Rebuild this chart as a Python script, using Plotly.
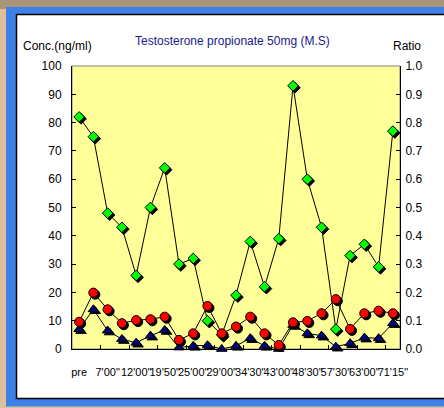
import plotly.graph_objects as go

# Sampling points (only every other one carries a printed label)
x_labels = ["pre", "7'00\"", "12'00\"", "19'50\"", "25'00\"", "29'00\"",
            "34'30\"", "43'00\"", "48'30\"", "57'30\"", "63'00\"", "71'15\""]
n_points = 23
sample_idx = list(range(n_points))
label_idx = sample_idx[::2]

# Ratio (right axis)
ratio = [0.82, 0.75, 0.48, 0.43, 0.26, 0.50, 0.64, 0.30, 0.32, 0.10, 0.05, 0.19,
         0.38, 0.22, 0.39, 0.93, 0.60, 0.43, 0.07, 0.33, 0.37, 0.29, 0.77]
# Concentrations, ng/ml (left axis)
conc_circle = [9.6, 19.9, 14.0, 9.1, 10.2, 10.5, 11.4, 3.2, 5.5, 15.2, 5.5, 7.9,
               11.4, 5.5, 1.4, 9.4, 9.9, 12.6, 17.6, 7.1, 12.6, 13.5, 12.6]
conc_triangle = [7.0, 14.0, 6.5, 3.5, 2.2, 4.7, 6.7, 0.5, 1.1, 1.3, 0.0, 1.1,
                 3.8, 1.1, 0.0, 8.5, 5.5, 4.7, 0.8, 2.0, 4.0, 3.8, 9.1]

W, H = 444, 408
L, R, T, B = 72, 44, 66, 59
PW, PH = W - L - R, H - T - B
FONT = "Liberation Sans, Arial, sans-serif"

X_RANGE = [-0.5, n_points - 0.5]
CONC_RANGE = [0, 100]
RATIO_RANGE = [0, 1]

# drop shadow offset in pixels, converted to data units per axis
SHADOW = 1.9
sdx = SHADOW * (X_RANGE[1] - X_RANGE[0]) / PW
sdy_conc = SHADOW * (CONC_RANGE[1] - CONC_RANGE[0]) / PH
sdy_ratio = SHADOW * (RATIO_RANGE[1] - RATIO_RANGE[0]) / PH


def px_x(px):
    return (px - L) / PW


def px_y(py):
    return (H - B - py) / PH


fig = go.Figure()


def add_series(values, yaxis, symbol, color, size, sdy):
    fig.add_trace(go.Scatter(
        x=sample_idx, y=values, yaxis=yaxis, mode="lines",
        line=dict(color="black", width=1), hoverinfo="skip", showlegend=False))
    fig.add_trace(go.Scatter(
        x=[i + sdx for i in sample_idx], y=[v - sdy for v in values],
        yaxis=yaxis, mode="markers", cliponaxis=False, hoverinfo="skip",
        marker=dict(symbol=symbol, size=size, color="black",
                    line=dict(color="black", width=1)),
        showlegend=False))
    fig.add_trace(go.Scatter(
        x=sample_idx, y=values, yaxis=yaxis, mode="markers", cliponaxis=False,
        marker=dict(symbol=symbol, size=size, color=color,
                    line=dict(color="black", width=1)),
        showlegend=False))


add_series(ratio, "y", "diamond", "#00FF00", 8.2, sdy_ratio)
add_series(conc_triangle, "y2", "triangle-up", "#000080", 9.2, sdy_conc)
add_series(conc_circle, "y2", "circle", "#FF0000", 9.2, sdy_conc)

shapes = [
    # darker backdrop strip along the top edge
    dict(type="rect", xref="paper", yref="paper", layer="below",
         x0=px_x(0), x1=px_x(470), y0=px_y(9), y1=px_y(-5),
         fillcolor="#a99578", line=dict(width=0)),
    # blue frame
    dict(type="rect", xref="paper", yref="paper", layer="below",
         x0=px_x(6), x1=px_x(470), y0=px_y(406.5), y1=px_y(7),
         fillcolor="#3f7fe8", line=dict(width=0)),
    # white chart panel
    dict(type="rect", xref="paper", yref="paper", layer="below",
         x0=px_x(16.5), x1=px_x(470), y0=px_y(398.5), y1=px_y(14.5),
         fillcolor="white", line=dict(color="black", width=1.5)),
    # yellow plot area
    dict(type="rect", xref="paper", yref="paper", layer="below",
         x0=0, x1=1, y0=0, y1=1,
         fillcolor="#FFFF99", line=dict(color="#808080", width=1)),
]

annotations = [
    dict(text="Testosterone propionate 50mg (M.S)", xref="paper", yref="paper",
         x=px_x(232), y=px_y(40.5), xanchor="center", yanchor="middle",
         showarrow=False, font=dict(family=FONT, size=12, color="#1a1a8a")),
    dict(text="Conc.(ng/ml)", xref="paper", yref="paper",
         x=px_x(21), y=px_y(46.5), xanchor="left", yanchor="middle",
         showarrow=False, font=dict(family=FONT, size=12, color="black")),
    dict(text="Ratio", xref="paper", yref="paper",
         x=px_x(391), y=px_y(46.5), xanchor="left", yanchor="middle",
         showarrow=False, font=dict(family=FONT, size=12, color="black")),
]

fig.update_layout(
    width=W, height=H,
    margin=dict(l=L, r=R, t=T, b=B, pad=0),
    paper_bgcolor="#dcc09c",
    plot_bgcolor="rgba(0,0,0,0)",
    font=dict(family=FONT, size=12, color="black"),
    shapes=shapes,
    annotations=annotations,
    xaxis=dict(
        range=X_RANGE, tickmode="array", tickvals=label_idx, ticktext=x_labels,
        tickangle=0, ticks="", showline=True, linecolor="black", linewidth=1,
        showgrid=False, zeroline=False, tickfont=dict(size=11),
        ticklabelstandoff=13,
        minor=dict(tickmode="array",
                   tickvals=[i + 1.5 for i in label_idx[:-1]],
                   ticks="inside", ticklen=4, tickcolor="black", tickwidth=1,
                   showgrid=False),
    ),
    yaxis=dict(
        side="right", range=RATIO_RANGE, dtick=0.1, tickformat=".1f",
        ticks="inside", ticklen=4, tickcolor="black", showline=True,
        linecolor="black", linewidth=1, showgrid=False, zeroline=False,
        ticklabelstandoff=2,
    ),
    yaxis2=dict(
        overlaying="y", side="left", range=CONC_RANGE, dtick=10,
        ticks="inside", ticklen=4, tickcolor="black", showline=True,
        linecolor="black", linewidth=1, showgrid=False, zeroline=False,
        ticklabelstandoff=7,
    ),
)

fig.write_html("out.html")
